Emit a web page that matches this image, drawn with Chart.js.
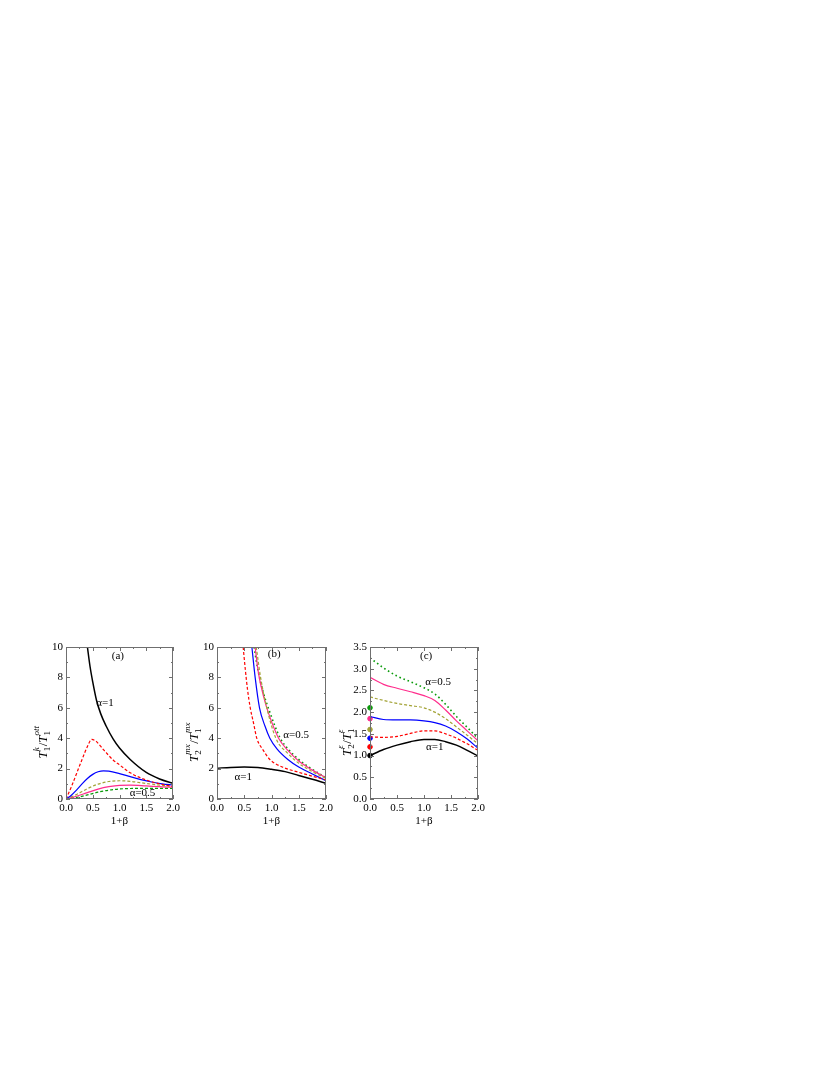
<!DOCTYPE html>
<html><head><meta charset="utf-8">
<script src="https://cdn.jsdelivr.net/npm/chart.js@4"></script>
<style>
body{margin:0;background:#fff;width:830px;height:1075px;position:relative;overflow:hidden}
canvas{position:absolute}
</style></head><body>
<canvas id="ca"></canvas><canvas id="cb"></canvas><canvas id="cc"></canvas>
<script>
// ---------- tick labels ----------
const xTickVals = [0, 0.5, 1.0, 1.5, 2.0];
const yTickValsAB = [0, 2, 4, 6, 8, 10];
const yTickValsC = [0, 0.5, 1.0, 1.5, 2.0, 2.5, 3.0, 3.5];

// ---------- panel (a) ----------
const aBlackX = [0.40,0.45,0.50,0.57,0.65,0.75,0.88,1.0,1.2,1.5,1.75,2.0];
const aBlackY = [10,8.7,7.7,6.5,5.6,4.8,3.95,3.35,2.6,1.75,1.32,1.03];
const aRedX = [0,0.1,0.2,0.3,0.4,0.48,0.56,0.7,0.88,1.0,1.2,1.5,1.75,2.0];
const aRedY = [0,0.8,1.7,2.6,3.45,3.92,3.8,3.25,2.57,2.25,1.72,1.25,1.0,0.82];
const aBlueX = [0,0.1,0.2,0.3,0.4,0.5,0.6,0.7,0.8,1.0,1.2,1.4,1.6,1.8,2.0];
const aBlueY = [0,0.25,0.6,1.0,1.35,1.62,1.79,1.85,1.83,1.67,1.47,1.28,1.12,1.0,0.92];
const aLowX = [0,0.2,0.4,0.6,0.8,1.0,1.2,1.5,1.8,2.0];
const aOliveY = [0,0.3,0.68,0.98,1.15,1.2,1.16,1.02,0.9,0.85];
const aPinkY = [0,0.18,0.42,0.65,0.81,0.9,0.91,0.86,0.8,0.78];
const aGreenY = [0,0.1,0.27,0.45,0.58,0.66,0.69,0.7,0.7,0.7];

// ---------- panel (b) ----------
const bBlackX = [0,0.25,0.5,0.75,1.0,1.25,1.5,1.75,2.0];
const bBlackY = [2.03,2.08,2.1,2.07,1.95,1.8,1.55,1.3,1.03];
const bRedX = [0.48,0.52,0.56,0.61,0.67,0.73,0.85,0.97,1.2,1.46,1.75,2.0];
const bRedY = [10,8.5,7.2,6.0,5.0,4.0,3.2,2.6,2.1,1.8,1.5,1.25];
const bBlueX = [0.64,0.7,0.78,0.88,0.97,1.1,1.3,1.5,1.75,2.0];
const bBlueY = [10,8.0,6.0,4.8,4.0,3.3,2.6,2.1,1.65,1.2];
const bOliveX = [0.72,0.8,0.9,1.08,1.3,1.5,1.75,2.0];
const bOliveY = [10,8.0,6.2,4.0,3.0,2.35,1.8,1.35];
const bPinkX = [0.70,0.76,0.85,0.95,1.13,1.3,1.5,1.75,2.0];
const bPinkY = [10,8.3,6.8,5.6,4.0,3.2,2.5,1.9,1.4];
const bGreenX = [0.68,0.75,0.85,0.95,1.16,1.3,1.5,1.75,2.0];
const bGreenY = [10,8.5,7.0,5.9,4.0,3.3,2.6,1.95,1.4];

// ---------- panel (c) ----------
const cX = [0,0.25,0.5,0.75,1.0,1.2,1.4,1.6,1.8,2.0];
const cBlackY = [1.0,1.14,1.24,1.32,1.37,1.37,1.32,1.24,1.12,0.99];
const cRedY = [1.43,1.42,1.44,1.51,1.57,1.57,1.5,1.4,1.27,1.12];
const cBlueY = [1.9,1.83,1.82,1.82,1.8,1.76,1.68,1.55,1.38,1.17];
const cOliveY = [2.35,2.27,2.2,2.15,2.1,2.0,1.85,1.66,1.47,1.27];
const cPinkY = [2.8,2.64,2.55,2.47,2.38,2.27,2.05,1.8,1.57,1.34];
const cGreenY = [3.25,3.02,2.83,2.7,2.56,2.42,2.18,1.9,1.65,1.39];
const cDotY = [1.0, 1.2, 1.4, 1.6, 1.85, 2.1]; // black, red, blue, olive, pink, green at x=0

// ---------- styles ----------
const C = {black:'#000000', red:'#ff0000', blue:'#0000ff', olive:'#a3a336', pink:'#ff2d8c', green:'#0a9a0a'};
const FONT = '"Liberation Serif","Times New Roman",serif';

function line(xs, ys, color, kind, width){
  const ds = {data: xs.map((x,i)=>({x:x, y:ys[i]})), borderColor: color, backgroundColor: color,
    borderWidth: width || 1.2, pointRadius: 0, fill:false, cubicInterpolationMode:'monotone'};
  if (kind === 'dash') ds.borderDash = [3,2];
  if (kind === 'dot') ds.borderDash = [1.6,2.8];
  return ds;
}
function dot(y, color){
  return {data:[{x:0,y:y}], showLine:false, pointRadius:2.3, pointBackgroundColor:color,
    pointBorderColor:color, borderColor:color, clip:false};
}

// panel geometry (page pixels)
const TOP = 647, BOT = 799;
const panels = [
  {id:'ca', L:66, R:173, yMax:10, yTicks:yTickValsAB, yFmt:v=>String(v), yMinorStep:1,
   tag:'(a)', tagPos:[0.97,9.4],
   labels:[['α=1',0.73,6.3],['α=0.5',1.43,0.4]],
   title:[['T','i',13],['1','sub'],['k','sup'],['/','n',13],['T','i',13],['1','sub'],['ott','sup']],
   datasets:[
     line(aBlackX,aBlackY,C.black,'solid',1.5),
     line(aRedX,aRedY,C.red,'dash'),
     line(aBlueX,aBlueY,C.blue,'solid'),
     line(aLowX,aOliveY,C.olive,'dash'),
     line(aLowX,aPinkY,C.pink,'solid'),
     line(aLowX,aGreenY,C.green,'dash')
   ]},
  {id:'cb', L:217, R:326, yMax:10, yTicks:yTickValsAB, yFmt:v=>String(v), yMinorStep:1,
   tag:'(b)', tagPos:[1.05,9.55],
   labels:[['α=0.5',1.45,4.2],['α=1',0.48,1.45]],
   title:[['T','i',13],['2','sub'],['mx','sup'],['/','n',13],['T','i',13],['1','sub'],['mx','sup']],
   datasets:[
     line(bBlackX,bBlackY,C.black,'solid',1.5),
     line(bRedX,bRedY,C.red,'dash'),
     line(bBlueX,bBlueY,C.blue,'solid'),
     line(bOliveX,bOliveY,C.olive,'dash'),
     line(bPinkX,bPinkY,C.pink,'solid'),
     line(bGreenX,bGreenY,C.green,'dot',1.6)
   ]},
  {id:'cc', L:370, R:478, yMax:3.5, yTicks:yTickValsC, yFmt:v=>v.toFixed(1), yMinorStep:0.25,
   tag:'(c)', tagPos:[1.04,3.3],
   labels:[['α=0.5',1.26,2.7],['α=1',1.2,1.2]],
   title:[['T','i',13],['2','sub'],['ε','sup'],['/','n',13],['T','i',13],['1','sub'],['ε','sup']],
   datasets:[
     line(cX,cBlackY,C.black,'solid',1.5),
     line(cX,cRedY,C.red,'dash'),
     line(cX,cBlueY,C.blue,'solid'),
     line(cX,cOliveY,C.olive,'dash'),
     line(cX,cPinkY,C.pink,'solid'),
     line(cX,cGreenY,C.green,'dot',1.6),
     dot(cDotY[0],C.black), dot(cDotY[1],C.red), dot(cDotY[2],C.blue),
     dot(cDotY[3],C.olive), dot(cDotY[4],C.pink), dot(cDotY[5],C.green)
   ]}
];

function drawTitle(ctx, cx, cy, pieces){
  const segs = [];
  let i = 0;
  while (i < pieces.length){
    const p = pieces[i];
    if (p[1] === 'sub'){
      const sub = p, sup = pieces[i+1];
      ctx.font = '9px ' + FONT; const w1 = ctx.measureText(sub[0]).width;
      ctx.font = 'italic 9px ' + FONT; const w2 = ctx.measureText(sup[0]).width;
      segs.push({type:'stack', sub:sub[0], sup:sup[0], w:Math.max(w1,w2)+0.5});
      i += 2;
    } else {
      ctx.font = (p[1]==='i'?'italic ':'') + p[2] + 'px ' + FONT;
      segs.push({type:'text', t:p[0], font:ctx.font, w:ctx.measureText(p[0]).width});
      i += 1;
    }
  }
  const total = segs.reduce((s,g)=>s+g.w,0);
  ctx.save();
  ctx.translate(cx, cy);
  ctx.rotate(-Math.PI/2);
  ctx.fillStyle = '#000';
  ctx.textBaseline = 'alphabetic';
  ctx.textAlign = 'left';
  let x = -total/2;
  for (const g of segs){
    if (g.type === 'text'){ ctx.font = g.font; ctx.fillText(g.t, x, 4.5); }
    else {
      ctx.font = '9px ' + FONT; ctx.fillText(g.sub, x, 7.5);
      ctx.font = 'italic 9px ' + FONT; ctx.fillText(g.sup, x, -3.5);
    }
    x += g.w;
  }
  ctx.restore();
}

function makeChart(p){
  const W = (p.R - p.L) + 70, H = (BOT - TOP) + 45;
  const cv = document.getElementById(p.id);
  cv.width = W; cv.height = H;
  cv.style.left = (p.L - 60) + 'px'; cv.style.top = (TOP - 10) + 'px';
  cv.style.width = W + 'px'; cv.style.height = H + 'px';

  const framePlugin = {
    id: 'frame_' + p.id,
    afterDatasetsDraw(chart){
      const ctx = chart.ctx, a = chart.chartArea, xs = chart.scales.x, ys = chart.scales.y;
      ctx.save();
      ctx.strokeStyle = '#6f6f6f'; ctx.lineWidth = 1;
      ctx.strokeRect(Math.round(a.left)+0.5, Math.round(a.top)+0.5,
                     Math.round(a.right-a.left)-1, Math.round(a.bottom-a.top)-1);
      ctx.beginPath();
      for (let v = 0; v <= 2.0001; v += 0.25){
        const px = Math.round(xs.getPixelForValue(v)) + 0.5;
        const major = Math.abs(v*2 - Math.round(v*2)) < 1e-6;
        const len = major ? 4 : 2;
        ctx.moveTo(px, a.bottom); ctx.lineTo(px, a.bottom - len);
        ctx.moveTo(px, a.top); ctx.lineTo(px, a.top + len);
      }
      for (let v = 0; v <= p.yMax + 1e-6; v += p.yMinorStep){
        const py = Math.round(ys.getPixelForValue(v)) + 0.5;
        const major = p.yTicks.some(t => Math.abs(t - v) < 1e-6);
        const len = major ? 4 : 2;
        ctx.moveTo(a.left, py); ctx.lineTo(a.left + len, py);
        ctx.moveTo(a.right, py); ctx.lineTo(a.right - len, py);
      }
      ctx.stroke();
      ctx.restore();
    },
    afterDraw(chart){
      const ctx = chart.ctx, a = chart.chartArea, xs = chart.scales.x, ys = chart.scales.y;
      ctx.save();
      ctx.fillStyle = '#000';
      ctx.textAlign = 'center'; ctx.textBaseline = 'middle';
      ctx.font = '11px ' + FONT;
      ctx.fillText(p.tag, xs.getPixelForValue(p.tagPos[0]), ys.getPixelForValue(p.tagPos[1]));
      for (const l of p.labels){
        ctx.fillText(l[0], xs.getPixelForValue(l[1]), ys.getPixelForValue(l[2]));
      }
      ctx.fillText('1+β', (a.left + a.right)/2, a.bottom + 22);
      ctx.restore();
      drawTitle(ctx, a.left - 24, 742 - (TOP - 10), p.title);
    }
  };

  return new Chart(cv.getContext('2d'), {
    type: 'line',
    data: {datasets: p.datasets},
    options: {
      responsive: false, animation: false, devicePixelRatio: 1,
      layout: {padding: {top: 10, right: 10, left: 0, bottom: 0}},
      plugins: {legend: {display: false}, tooltip: {enabled: false}},
      scales: {
        x: {type: 'linear', min: 0, max: 2,
            afterBuildTicks: s => { s.ticks = xTickVals.map(v => ({value: v})); },
            afterFit: s => { s.height = 35; },
            grid: {display: false, drawTicks: false}, border: {display: false},
            ticks: {padding: 3, color: '#000', font: {family: FONT, size: 11},
                    maxRotation: 0, autoSkip: false, callback: v => Number(v).toFixed(1)}},
        y: {type: 'linear', min: 0, max: p.yMax,
            afterBuildTicks: s => { s.ticks = p.yTicks.map(v => ({value: v})); },
            afterFit: s => { s.width = 60; },
            grid: {display: false, drawTicks: false}, border: {display: false},
            ticks: {padding: 3, color: '#000', font: {family: FONT, size: 11},
                    autoSkip: false, callback: v => p.yFmt(Number(v))}}
      }
    },
    plugins: [framePlugin]
  });
}

panels.forEach(makeChart);
</script>
</body></html>
